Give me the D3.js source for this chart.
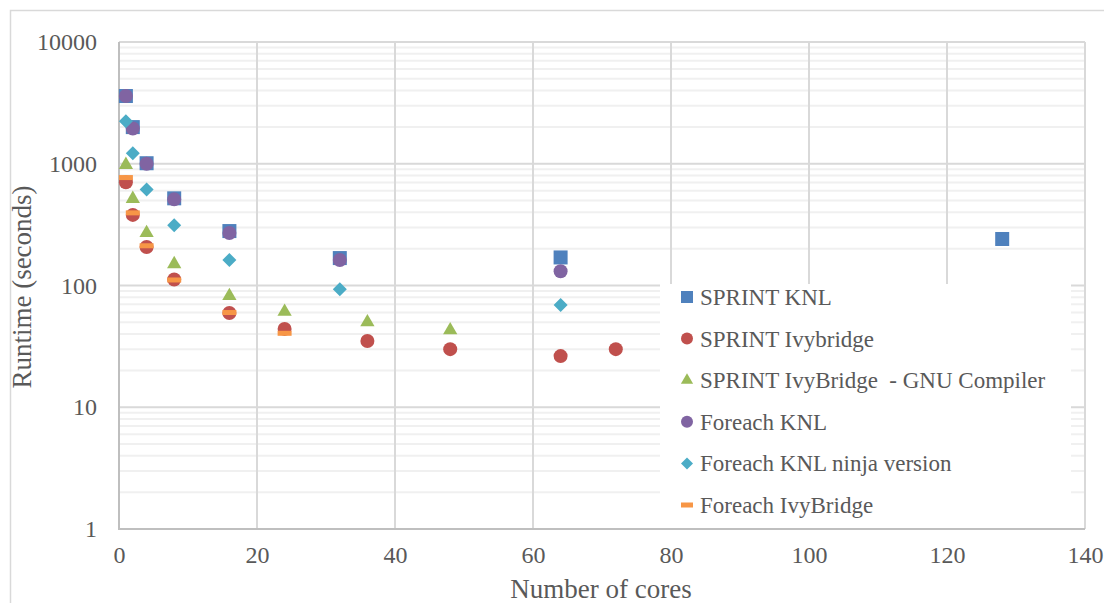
<!DOCTYPE html>
<html>
<head>
<meta charset="utf-8">
<script src="https://cdn.jsdelivr.net/npm/d3@7"></script>
<style>
  body { margin: 0; background: #fff; }
  text { font-family: "Liberation Serif", "DejaVu Serif", serif; fill: #595959; }
</style>
</head>
<body>
<div id="chart"></div>
<script>
var svgWidth = 1104;
var svgHeight = 603;

// series data (cores, runtime in seconds)
var sprintKnlCores = [1, 2, 4, 8, 16, 32, 64, 128];
var sprintKnlTime = [3600, 2000, 1010, 520, 280, 168, 170, 241];

var sprintIvyCores = [1, 2, 4, 8, 16, 24, 36, 48, 64, 72];
var sprintIvyTime = [705, 380, 207, 112, 59.5, 44, 35, 30, 26.3, 30];

var sprintGnuCores = [1, 2, 4, 8, 16, 24, 36, 48];
var sprintGnuTime = [980, 515, 270, 150, 82, 61, 50, 43];

var foreachKnlCores = [1, 2, 4, 8, 16, 32, 64];
var foreachKnlTime = [3600, 1950, 1000, 510, 270, 162, 131];

var ninjaCores = [1, 2, 4, 8, 16, 32, 64];
var ninjaTime = [2230, 1220, 615, 312, 162, 93, 69];

var foreachIvyCores = [1, 2, 4, 8, 16, 24];
var foreachIvyTime = [770, 395, 212, 111, 60, 40.5];

var seriesNames = ["SPRINT KNL", "SPRINT Ivybridge", "SPRINT IvyBridge  - GNU Compiler",
  "Foreach KNL", "Foreach KNL ninja version", "Foreach IvyBridge"];
var seriesColors = ["#4f81bd", "#c0504d", "#9bbb59", "#8064a2", "#4bacc6", "#f79646"];
var seriesShapes = ["square", "circle", "triangle", "circle", "diamond", "dash"];

var xTicks = [0, 20, 40, 60, 80, 100, 120, 140];
var yTicks = [1, 10, 100, 1000, 10000];

var allSeries = [
  [sprintKnlCores, sprintKnlTime],
  [sprintIvyCores, sprintIvyTime],
  [sprintGnuCores, sprintGnuTime],
  [foreachKnlCores, foreachKnlTime],
  [ninjaCores, ninjaTime],
  [foreachIvyCores, foreachIvyTime]
].map(function(s, i) {
  return {
    name: seriesNames[i],
    color: seriesColors[i],
    shape: seriesShapes[i],
    points: s[0].map(function(c, j) { return { cores: c, time: s[1][j] }; })
  };
});

var plot = { left: 119, right: 1085, top: 42, bottom: 529 };

var svg = d3.select("#chart")
  .append("svg")
  .attr("width", svgWidth)
  .attr("height", svgHeight);

// outer chart border
svg.append("rect")
  .attr("x", 10.5).attr("y", 10.5)
  .attr("width", 1120).attr("height", 620)
  .attr("fill", "none")
  .attr("stroke", "#d9d9d9")
  .attr("stroke-width", 1.5);

var xScale = d3.scaleLinear().domain([0, 140]).range([plot.left, plot.right]);
var yScale = d3.scaleLog().domain([1, 10000]).range([plot.bottom, plot.top]);

// minor gridlines
var minor = [];
[1, 10, 100, 1000].forEach(function(d) {
  for (var k = 2; k <= 9; k++) minor.push(d * k);
});
svg.append("g").selectAll("line")
  .data(minor)
  .enter().append("line")
  .attr("x1", plot.left).attr("x2", plot.right)
  .attr("y1", d => yScale(d)).attr("y2", d => yScale(d))
  .attr("stroke", "#f0f0f0")
  .attr("stroke-width", 2);

// major gridlines
svg.append("g").selectAll("line")
  .data(yTicks.slice(1))
  .enter().append("line")
  .attr("x1", plot.left).attr("x2", plot.right)
  .attr("y1", d => yScale(d)).attr("y2", d => yScale(d))
  .attr("stroke", "#d9d9d9")
  .attr("stroke-width", 2);

svg.append("g").selectAll("line")
  .data(xTicks.slice(1))
  .enter().append("line")
  .attr("x1", d => xScale(d)).attr("x2", d => xScale(d))
  .attr("y1", plot.top).attr("y2", plot.bottom)
  .attr("stroke", "#d9d9d9")
  .attr("stroke-width", 2);

// axis lines
svg.append("line")
  .attr("x1", plot.left).attr("x2", plot.left)
  .attr("y1", plot.top).attr("y2", plot.bottom + 1)
  .attr("stroke", "#bfbfbf").attr("stroke-width", 2);
svg.append("line")
  .attr("x1", plot.left - 1).attr("x2", plot.right)
  .attr("y1", plot.bottom).attr("y2", plot.bottom)
  .attr("stroke", "#bfbfbf").attr("stroke-width", 2);

// axes (labels only)
var leftAxis = d3.axisLeft(yScale).tickValues(yTicks).tickFormat(d3.format("d")).tickSize(0).tickPadding(22);
var bottomAxis = d3.axisBottom(xScale).tickValues(xTicks).tickFormat(d3.format("d")).tickSize(0).tickPadding(17);

var gy = svg.append("g").attr("transform", `translate(${plot.left}, 0)`).call(leftAxis);
var gx = svg.append("g").attr("transform", `translate(0, ${plot.bottom})`).call(bottomAxis);
[gx, gy].forEach(function(g) {
  g.select(".domain").remove();
  g.selectAll("text")
    .attr("font-family", "Liberation Serif")
    .attr("font-size", 24)
    .attr("fill", "#595959");
});

// markers
function drawMarker(sel, shape, color, s) {
  if (shape === "dash") {
    sel.append("rect")
      .attr("x", -s / 2).attr("y", -2.5)
      .attr("width", s).attr("height", 5)
      .attr("fill", color);
  } else if (shape === "diamond") {
    sel.append("path")
      .attr("d", d3.symbol().type(d3.symbolSquare).size(s * s / 2)())
      .attr("transform", "rotate(45)")
      .attr("fill", color);
  } else if (shape === "triangle") {
    sel.append("path")
      .attr("d", d3.symbol().type(d3.symbolTriangle).size(s * s * 0.45)())
      .attr("fill", color);
  } else if (shape === "circle") {
    sel.append("circle").attr("r", s / 2).attr("fill", color);
  } else {
    sel.append("rect")
      .attr("x", -s / 2).attr("y", -s / 2)
      .attr("width", s).attr("height", s)
      .attr("fill", color);
  }
}

allSeries.forEach(function(series) {
  svg.append("g").selectAll("g")
    .data(series.points)
    .enter().append("g")
    .attr("transform", d => `translate(${xScale(d.cores)}, ${yScale(d.time)})`)
    .each(function() {
      drawMarker(d3.select(this), series.shape, series.color, 14);
    });
});

// legend
var legend = svg.append("g");
legend.append("rect")
  .attr("x", 660).attr("y", 284)
  .attr("width", 411).attr("height", 244)
  .attr("fill", "#fff");

var legendY = d3.scalePoint().domain(seriesNames).range([297, 505]);
var items = legend.selectAll("g.item")
  .data(allSeries)
  .enter().append("g")
  .attr("class", "item")
  .attr("transform", d => `translate(687, ${legendY(d.name)})`);
items.each(function(d) {
  drawMarker(d3.select(this), d.shape, d.color, 12);
});
items.append("text")
  .attr("x", 13)
  .attr("dy", "0.35em")
  .attr("font-size", 23)
  .attr("xml:space", "preserve")
  .style("white-space", "pre")
  .text(d => d.name);

// axis titles
svg.append("text")
  .attr("transform", "rotate(-90)")
  .attr("x", -287)
  .attr("y", 22)
  .attr("dy", "0.35em")
  .attr("text-anchor", "middle")
  .attr("font-size", 27)
  .text("Runtime (seconds)");

svg.append("text")
  .attr("x", 601)
  .attr("y", 589)
  .attr("dy", "0.35em")
  .attr("text-anchor", "middle")
  .attr("font-size", 27)
  .text("Number of cores");
</script>
</body>
</html>
